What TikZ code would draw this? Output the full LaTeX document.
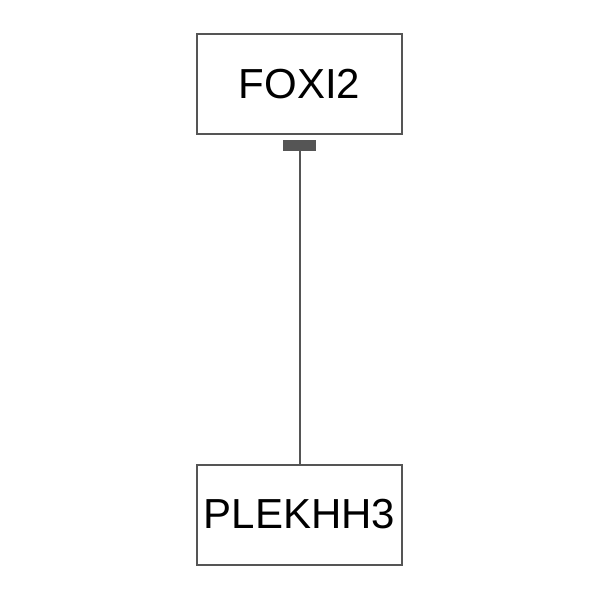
\documentclass[tikz,border=0pt]{standalone}
\usepackage{fontspec}
\setmainfont{Liberation Sans}
\usepackage{tikz}
\usetikzlibrary{arrows.meta}
\definecolor{edgegray}{HTML}{555555}

\begin{document}
\begin{tikzpicture}[
  x=1pt, y=-1pt,
  gene/.style={draw=edgegray, line width=2pt, fill=white, minimum width=205pt, minimum height=100pt, inner sep=0pt, font=\fontsize{42}{50}\selectfont},
  inh/.style={draw=edgegray, line width=2pt, -{Rectangle[length=11pt, width=33pt]}, shorten >=5pt}]
\useasboundingbox (0,0) rectangle (600,600);
\node[gene] (foxi) at (299.5,84) {FOXI2};
\node[gene] (plek) at (299.5,514.5) {PLEKHH3};
\draw[inh] (plek) -- (foxi);
\end{tikzpicture}
\end{document}
